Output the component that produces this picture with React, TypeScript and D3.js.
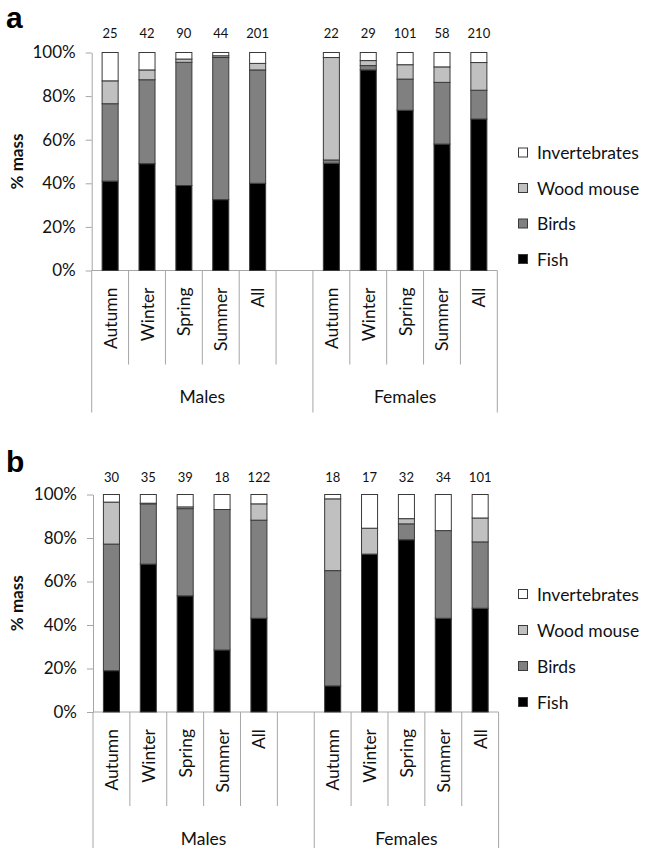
import React, { useEffect, useRef } from 'react';
import * as d3 from 'd3';

const seasons = ['Autumn', 'Winter', 'Spring', 'Summer', 'All'];
const sexes = ['Males', 'Females'];
const seriesNames = ['Fish', 'Birds', 'Wood mouse', 'Invertebrates'];
const seriesColors = ['#000000', '#808080', '#c0c0c0', '#ffffff'];
const yTicks = [0, 20, 40, 60, 80, 100];

// panel a: 5 male columns then 5 female columns (% mass)
const nA = [25, 42, 90, 44, 201, 22, 29, 101, 58, 210];
const fishA = [41, 49, 39, 32.5, 40, 49.2, 92, 73.5, 58, 69.5];
const birdsA = [35.5, 38.5, 56.5, 65.2, 52, 1.5, 2, 14.3, 28.3, 13.2];
const woodA = [10.5, 4.5, 1.5, 0.8, 3, 47, 2.3, 6.6, 7.1, 12.7];
const invertA = [13, 8, 3, 1.5, 5, 2.3, 3.7, 5.6, 6.6, 4.6];

// panel b
const nB = [30, 35, 39, 18, 122, 18, 17, 32, 34, 101];
const fishB = [19, 68, 53.4, 28.5, 43.1, 12, 72.6, 79.2, 43.1, 47.7];
const birdsB = [58.2, 27.7, 40.1, 64.6, 45.1, 53, 0, 7.3, 40.3, 30.5];
const woodB = [19.3, 0.3, 0.8, 0, 7.5, 33, 11.9, 2.4, 0, 11];
const invertB = [3.5, 4, 5.7, 6.9, 4.3, 2, 15.5, 11.1, 16.6, 10.8];

const FONT = 'Lato, "Open Sans", sans-serif';
const LINE = '#a6a6a6';
const INK = '#111';

function drawPanel(svg, p) {
  const keys = [];
  sexes.forEach((s, i) => {
    seasons.forEach(c => keys.push(s + '|' + c));
    if (i === 0) keys.push('gap');
  });
  const colKeys = keys.filter(k => k !== 'gap');

  const x = d3.scaleBand().domain(keys).range([p.x0, p.x1])
    .paddingInner(0.565).paddingOuter(0.2825);
  const y = d3.scaleLinear().domain([0, 100]).range([p.y0, p.y100]);

  const rows = colKeys.map((k, i) => ({
    key: k, Fish: p.fish[i], Birds: p.birds[i], 'Wood mouse': p.wood[i], Invertebrates: p.invert[i]
  }));
  const stacked = d3.stack().keys(seriesNames)(rows);

  const g = svg.append('g');

  // panel letter
  g.append('text').attr('x', 6).attr('y', p.letterY)
    .attr('font-family', '"Liberation Sans", Arial, sans-serif')
    .attr('font-weight', 'bold').attr('font-size', 30).text(p.letter);

  // y axis
  const ax = g.append('g').attr('transform', `translate(${p.x0},0)`)
    .call(d3.axisLeft(y).tickValues(yTicks).tickSize(6).tickSizeOuter(0)
      .tickPadding(10).tickFormat(d => `${d}%`));
  ax.selectAll('path, line').attr('stroke', LINE);
  ax.selectAll('text').attr('font-family', FONT).attr('font-size', 17).attr('fill', INK);

  // y title
  g.append('text')
    .attr('transform', `translate(${p.titleX},${(p.y0 + p.y100) / 2}) rotate(-90)`)
    .attr('text-anchor', 'middle').attr('dominant-baseline', 'central')
    .attr('font-family', FONT).attr('font-weight', 'bold').attr('font-size', 17)
    .attr('fill', INK).text('% mass');

  // baseline
  g.append('line').attr('x1', p.x0).attr('x2', p.x1).attr('y1', p.y0).attr('y2', p.y0)
    .attr('stroke', LINE);

  // category separators / brackets
  const step = x.step();
  d3.range(keys.length + 1).forEach(i => {
    const xx = p.x0 + i * step;
    const long = i === 0 || i === 6 || i === keys.length;
    g.append('line').attr('x1', xx).attr('x2', xx)
      .attr('y1', p.y0).attr('y2', p.y0 + (long ? 142 : 94))
      .attr('stroke', LINE);
  });

  // category labels
  colKeys.forEach(k => {
    const cx = x(k) + x.bandwidth() / 2;
    g.append('text')
      .attr('transform', `translate(${cx},${p.y0 + 17}) rotate(-90)`)
      .attr('text-anchor', 'end').attr('dominant-baseline', 'central')
      .attr('font-family', FONT).attr('font-size', 17.5).attr('fill', INK)
      .text(k.split('|')[1]);
  });

  // group labels
  sexes.forEach((s, i) => {
    const a = i === 0 ? p.x0 : p.x0 + 6 * step;
    const b = i === 0 ? p.x0 + 6 * step : p.x1;
    g.append('text').attr('x', (a + b) / 2).attr('y', p.y0 + 126)
      .attr('text-anchor', 'middle').attr('dominant-baseline', 'central')
      .attr('font-family', FONT).attr('font-size', 17.5).attr('fill', INK).text(s);
  });

  // bars
  g.selectAll('g.series').data(stacked).join('g')
    .attr('fill', (d, i) => seriesColors[i])
    .selectAll('rect').data(d => d).join('rect')
    .attr('x', d => x(d.data.key))
    .attr('width', x.bandwidth())
    .attr('y', d => y(d[1]))
    .attr('height', d => y(d[0]) - y(d[1]))
    .attr('stroke', '#3a3a3a').attr('stroke-width', 1);

  // sample sizes
  colKeys.forEach((k, i) => {
    g.append('text').attr('x', x(k) + x.bandwidth() / 2).attr('y', p.countY)
      .attr('text-anchor', 'middle').attr('dominant-baseline', 'central')
      .attr('font-family', FONT).attr('font-size', 13).attr('fill', INK)
      .text(p.n[i]);
  });

  // legend
  const legendOrder = seriesNames.map((s, i) => i).reverse();
  legendOrder.forEach((si, j) => {
    const ly = p.legendTop + j * p.legendStep;
    g.append('rect').attr('x', 518.5).attr('y', ly - 4.5).attr('width', 9).attr('height', 9)
      .attr('fill', seriesColors[si]).attr('stroke', '#3a3a3a');
    g.append('text').attr('x', 537).attr('y', ly)
      .attr('dominant-baseline', 'central')
      .attr('font-family', FONT).attr('font-size', 17.5).attr('fill', INK)
      .text(seriesNames[si]);
  });
}

const App = () => {
  const ref = useRef(null);

  useEffect(() => {
    const svg = d3.select(ref.current);
    svg.selectAll('*').remove();
    drawPanel(svg, {
      letter: 'a', letterY: 28, titleX: 16,
      x0: 91.7, x1: 497.3, y0: 270.5, y100: 52.5, countY: 33,
      legendTop: 152.5, legendStep: 35.5,
      n: nA, fish: fishA, birds: birdsA, wood: woodA, invert: invertA
    });
    drawPanel(svg, {
      letter: 'b', letterY: 472, titleX: 16,
      x0: 93, x1: 498.6, y0: 712, y100: 494.5, countY: 477,
      legendTop: 594, legendStep: 36,
      n: nB, fish: fishB, birds: birdsB, wood: woodB, invert: invertB
    });
  }, []);

  return (
    <svg ref={ref} width={645} height={848}
      style={{ position: 'absolute', left: 0, top: 0, background: '#fff' }} />
  );
};

export default App;
